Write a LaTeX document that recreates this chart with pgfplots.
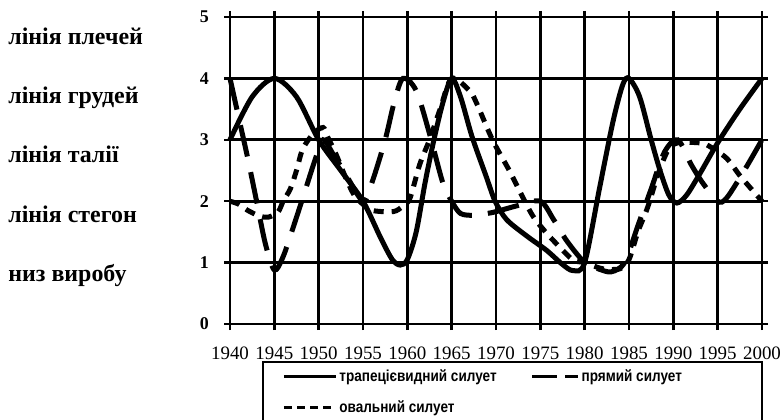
\documentclass[border=0pt]{standalone}
\usepackage{fontspec}
\setmainfont{Liberation Serif}
\newfontfamily\legfont[FakeStretch=0.85]{Liberation Sans}
\usepackage{pgfplots}
\pgfplotsset{compat=1.18}
\begin{document}
\begin{tikzpicture}
\begin{axis}[
  at={(115bp,48bp)}, anchor=south west,
  scale only axis, width=266bp, height=153.5bp,
  xmin=1940, xmax=2000, ymin=0, ymax=5,
  xtick={1940,1945,...,2000}, ytick={0,1,2,3,4,5},
  grid=major,
  grid style={solid, black, line width=1.4bp},
  axis lines=box,
  axis line style={black, line width=1.3bp},
  every tick/.style={black, line width=1.2bp},
  tick align=outside, major tick length=3bp,
  clip=false,
  /pgf/number format/1000 sep={},
  /pgf/number format/assume math mode=true,
  xticklabel style={font=\fontsize{9.5}{11}\selectfont, yshift=-5bp},
  yticklabel style={font=\bfseries\fontsize{9}{11}\selectfont, xshift=-4bp},
  legend columns=2,
  legend cell align=left,
  legend style={at={(axis description cs:0.0977,-0.14)}, anchor=north west,
    draw=none, fill=none, inner sep=0pt, row sep=6bp,
    font=\legfont\bfseries\fontsize{8}{9}\selectfont,
    nodes={inner sep=1pt},
    /tikz/every even column/.append style={column sep=16bp}},
  legend image code/.code={\draw[#1, line width=1.5bp] (0bp,0bp) -- (26bp,0bp);},
]
\addplot[black, line width=2.5bp, smooth] coordinates {
(1940,3.0) (1942.5,3.7) (1945,4.0) (1947.5,3.7) (1950,3.0) (1952.5,2.5) (1955,2.0)
(1957,1.4) (1958.3,1.05) (1959.2,0.96) (1960,1.05) (1961,1.5) (1962,2.3) (1963,3.0)
(1964,3.6) (1965,4.0) (1966,3.7) (1967.3,3.05) (1968.9,2.4) (1969.9,2.0) (1971.2,1.7)
(1973.5,1.43) (1975.7,1.2) (1977.5,0.97) (1978.7,0.87) (1980,1.0) (1981.7,2.23)
(1983.2,3.3) (1984.3,3.9) (1985,4.0) (1986.2,3.7) (1987.5,3.0) (1988.5,2.5)
(1989.5,2.1) (1990.4,1.97) (1991.5,2.1) (1993,2.45) (1995,2.95) (1997.5,3.5) (2000,4.0)
};
\addlegendentry{трапецієвидний силует}
\addplot[black, line width=2.5bp, smooth, dash pattern=on 16bp off 8bp,
  legend image code/.code={\draw[black, line width=1.5bp, dash pattern=on 12.5bp off 4bp] (0bp,0bp) -- (23bp,0bp);}] coordinates {
(1940,4.0) (1941,3.35) (1942,2.7) (1943,2.0) (1944,1.3) (1945,0.88) (1946,1.1)
(1947.3,1.65) (1948.6,2.23) (1949.7,2.72) (1950.5,3.0) (1951.7,2.75) (1953,2.45)
(1955,2.0) (1956,2.3) (1957.5,3.0) (1958.5,3.6) (1959.5,4.0) (1961,3.8) (1962.5,3.1)
(1964,2.3) (1965,2.0) (1966,1.8) (1967.5,1.77) (1969,1.8) (1970,1.83) (1972.5,1.93)
(1975,2.0) (1976.5,1.7) (1978,1.35) (1980,1.0) (1981.5,0.9) (1983,0.85) (1984.5,1.0)
(1986,1.6) (1987.5,2.2) (1989,2.8) (1990.5,3.0) (1992,2.6) (1993.3,2.3) (1995,2.0)
(1996,2.05) (1998,2.5) (2000,3.0)
};
\addlegendentry{прямий силует}
\addplot[black, line width=2.5bp, smooth, dash pattern=on 5bp off 4bp,
  legend image code/.code={\draw[black, line width=1.5bp, dash pattern=on 4bp off 2.6bp] (0bp,0bp) -- (25bp,0bp);}] coordinates {
(1940,2.0) (1941,1.95) (1942,1.85) (1943.3,1.76) (1944.3,1.74) (1945.4,1.82) (1946,2.0)
(1946.8,2.2) (1947.5,2.5) (1948.2,2.85) (1949.4,3.1) (1950.5,3.2) (1951,3.05)
(1952,2.75) (1953,2.4) (1954,2.1) (1955,1.95) (1956,1.85) (1958.4,1.83) (1959.5,1.92)
(1960.3,2.05) (1961.4,2.6) (1962.5,3.0) (1963.7,3.5) (1965,4.0) (1967,3.8) (1967.8,3.6)
(1969.6,3.0) (1971.5,2.5) (1973,2.07) (1974.2,1.75) (1975.7,1.48) (1977.2,1.25)
(1978.7,1.04) (1980,1.0) (1982,0.9) (1984,0.9) (1985,1.05) (1986,1.5) (1987.1,1.9)
(1988.3,2.45) (1989.4,2.83) (1990.5,2.95) (1993,2.95) (1994,2.9) (1996,2.7)
(1997.6,2.4) (2000,2.0)
};
\addlegendentry{овальний силует}
\end{axis}
\draw[black, line width=1.2bp] (131.5bp,-5bp) -- (131.5bp,29bp) -- (381bp,29bp) -- (381bp,-5bp);
\begin{scope}[every node/.style={anchor=base west, inner sep=0pt, font=\bfseries\fontsize{12}{14}\selectfont}]
\node at (4bp,187.5bp) {лінія плечей};
\node at (4bp,158bp) {лінія грудей};
\node at (4bp,128.5bp) {лінія талії};
\node at (4bp,98.5bp) {лінія стегон};
\node at (4bp,69bp) {низ виробу};
\end{scope}
\pgfresetboundingbox
\useasboundingbox (0bp,0bp) rectangle (390.5bp,210bp);
\end{tikzpicture}
\end{document}
